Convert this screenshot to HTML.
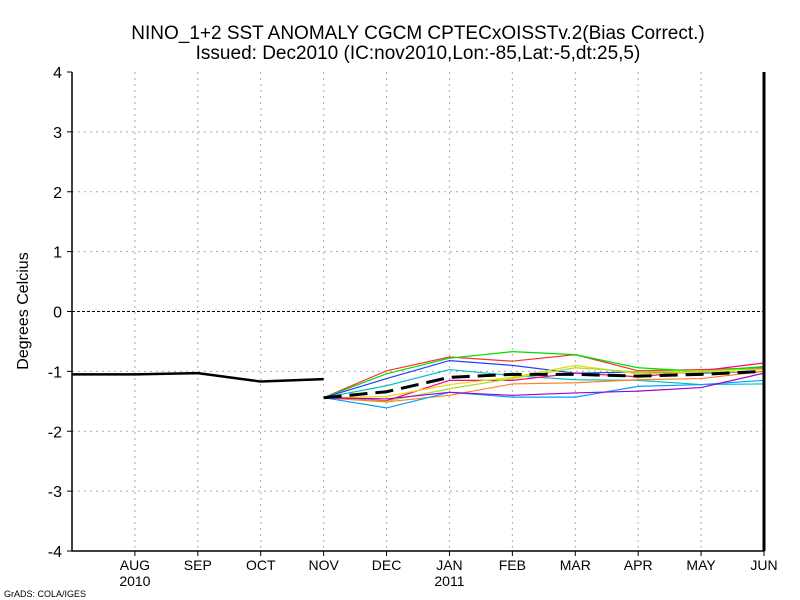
<!DOCTYPE html>
<html><head><meta charset="utf-8"><style>
body{margin:0;background:#fff;}
svg{display:block;font-family:"Liberation Sans",sans-serif;}
</style></head><body>
<svg id="chart" width="800" height="600">
<text x="418" y="39" text-anchor="middle" font-size="19">NINO_1+2 SST ANOMALY CGCM CPTECxOISSTv.2(Bias Correct.)</text>
<text x="418" y="59" text-anchor="middle" font-size="19">Issued:  Dec2010 (IC:nov2010,Lon:-85,Lat:-5,dt:25,5)</text>
<text x="28" y="311" text-anchor="middle" font-size="16" transform="rotate(-90 28 311)">Degrees Celcius</text>
<text x="4" y="597" font-size="9">GrADS: COLA/IGES</text>
<g id="grid"></g><g id="series"></g><g id="axes"></g>
</svg>
<script>
const months=["JUL","AUG","SEP","OCT","NOV","DEC","JAN","FEB","MAR","APR","MAY","JUN"];
const yearLabels=[["2010",1],["2011",6]];
const yTicks=[-4,-3,-2,-1,0,1,2,3,4];
const history=[-1.05,-1.05,-1.03,-1.17,-1.13];
const ensMean=[-1.44,-1.34,-1.10,-1.05,-1.05,-1.08,-1.05,-1.00];
const memRed=[-1.44,-0.99,-0.76,-0.83,-0.72,-0.99,-0.97,-0.94];
const memGreen=[-1.44,-1.04,-0.78,-0.67,-0.72,-0.94,-1.00,-0.92];
const memBlue=[-1.44,-1.12,-0.82,-0.90,-1.03,-1.01,-1.03,-1.00];
const memCyan=[-1.44,-1.24,-0.97,-1.07,-1.14,-1.15,-1.22,-1.21];
const memPink=[-1.44,-1.49,-1.15,-1.15,-1.03,-1.09,-0.99,-0.86];
const memYellow=[-1.44,-1.42,-1.22,-1.10,-0.90,-1.04,-1.01,-1.00];
const memLime=[-1.44,-1.50,-1.29,-1.12,-0.94,-1.01,-0.99,-0.96];
const memOrange=[-1.44,-1.51,-1.40,-1.21,-1.19,-1.14,-1.12,-1.00];
const memSky=[-1.44,-1.61,-1.35,-1.43,-1.43,-1.25,-1.22,-1.15];
const memPurple=[-1.44,-1.46,-1.35,-1.40,-1.36,-1.33,-1.27,-1.03];
const members=[["red","#ff3030",memRed],["green","#00dd00",memGreen],["blue","#2040ff",memBlue],["cyan","#00c0c0",memCyan],["pink","#ff0080",memPink],["yellow","#e0e000",memYellow],["lime","#a0e030",memLime],["orange","#ff8020",memOrange],["sky","#00a0ff",memSky],["purple","#a000d0",memPurple]];
const L=72,R=764,T=72,B=551;
const X=i=>L+i*(R-L)/11;
const Y=v=>T+(4-v)*(B-T)/8;
const NS="http://www.w3.org/2000/svg";
function mk(tag,attrs,parent){const e=document.createElementNS(NS,tag);for(const k in attrs)e.setAttribute(k,attrs[k]);parent.appendChild(e);return e;}
const grid=document.getElementById("grid"),ser=document.getElementById("series"),ax=document.getElementById("axes");
yTicks.forEach(v=>{
 if(v!==0&&v!==-4&&v!==4){const g=mk("line",{x1:L,x2:R,y1:Y(v),y2:Y(v),stroke:"#aaa","stroke-dasharray":"2,4"},grid);
 
 }
 const tk=mk("line",{x1:L-5,x2:L,y1:Y(v),y2:Y(v),stroke:"#000"},ax);
 
 
 const t=mk("text",{x:L-10,y:Y(v)+6,"text-anchor":"end","font-size":"16"},ax);t.textContent=v;
 
 
});
months.forEach((m,i)=>{if(i===0)return;
 if(i<11){const g=mk("line",{x1:X(i),x2:X(i),y1:T,y2:B,stroke:"#aaa","stroke-dasharray":"2,4"},grid);
 
 }
 const tk=mk("line",{x1:X(i),x2:X(i),y1:B,y2:B+5,stroke:"#000"},ax);
 
 
 const t=mk("text",{x:X(i),y:B+19,"text-anchor":"middle","font-size":"14"},ax);t.textContent=m;
 
 
});
yearLabels.forEach(([y,i])=>{const t=mk("text",{x:X(i),y:B+35,"text-anchor":"middle","font-size":"14"},ax);t.textContent=y;
 
 });
const z=mk("line",{x1:L,x2:R,y1:Y(0),y2:Y(0),stroke:"#000","stroke-dasharray":"3,2"},ax);


const frame=mk("path",{d:`M${L},${T}V${B}H${R}V${T}`,fill:"none",stroke:"#000","stroke-width":"1.5"},ax);


mk("line",{x1:R,x2:R,y1:T,y2:B,stroke:"#000","stroke-width":"3"},ax);
const pts=(arr,off)=>arr.map((v,i)=>X(i+off)+","+Y(v)).join(" ");
members.forEach(([n,c,arr])=>{const p=mk("polyline",{points:pts(arr,4),fill:"none",stroke:c,"stroke-width":"1.2"},ser);
 
 });
const m=mk("polyline",{points:pts(ensMean,4),fill:"none",stroke:"#000","stroke-width":"3","stroke-dasharray":"18,8"},ser);


const h=mk("polyline",{points:pts(history,0),fill:"none",stroke:"#000","stroke-width":"2.5"},ser);


</script>
</body></html>
